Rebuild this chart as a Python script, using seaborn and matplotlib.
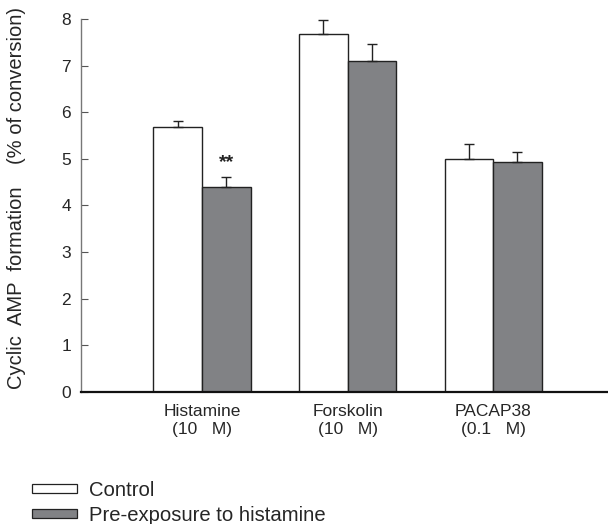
import matplotlib
matplotlib.use("Agg")
import matplotlib.pyplot as plt
import seaborn as sns
import pandas as pd
import numpy as np
from matplotlib.patches import Patch

categories = ["Histamine\n(10   M)", "Forskolin\n(10   M)", "PACAP38\n(0.1   M)"]
groups = ["Control", "Pre-exposure to histamine"]
control_vals = [5.69, 7.67, 4.99]
control_err = [0.13, 0.31, 0.32]
pre_vals = [4.39, 7.09, 4.93]
pre_err = [0.22, 0.37, 0.21]
yticks = [0, 1, 2, 3, 4, 5, 6, 7, 8]
colors = {"Control": "#ffffff", "Pre-exposure to histamine": "#818285"}

sns.set_style("ticks")
plt.rcParams["font.family"] = ["Liberation Sans", "DejaVu Sans"]

df = pd.DataFrame({
    "cat": categories * 2,
    "group": [groups[0]] * 3 + [groups[1]] * 3,
    "val": control_vals + pre_vals,
})

fig = plt.figure(figsize=(6.08, 5.24), dpi=100)
ax = fig.add_axes([0.133, 0.252, 0.865, 0.712])
sns.barplot(data=df, x="cat", y="val", hue="group", palette=colors,
            width=0.667, errorbar=None, edgecolor="#222222", linewidth=1.0,
            ax=ax, legend=False, saturation=1)

# error bars (upward only)
errs = control_err + pre_err
vals = control_vals + pre_vals
bars = [p for p in ax.patches][:6]
for p, v, e in zip(bars, vals, errs):
    cx = p.get_x() + p.get_width() / 2
    ax.errorbar(cx, v, yerr=[[0], [e]], fmt="none", ecolor="#222222",
                elinewidth=1.0, capsize=3.6, capthick=1.0)

# significance marker
p_hist_pre = bars[3]
ax.text(p_hist_pre.get_x() + p_hist_pre.get_width() / 2,
        pre_vals[0] + pre_err[0] + 0.12, "**", ha="center", va="bottom",
        fontsize=14, fontweight="bold", color="#222222")

ax.set_ylim(0, 8)
ax.set_xlim(-0.832, 2.78)
ax.set_yticks(yticks)
ax.tick_params(axis="y", direction="in", length=5, width=0.8, labelsize=12.5,
               color="#555555", pad=7)
ax.tick_params(axis="x", length=0, labelsize=12.5, pad=9)
for lbl in ax.get_xticklabels():
    lbl.set_multialignment("center")
ax.set_xlabel("")
ax.set_ylabel("Cyclic  AMP  formation    (% of conversion)", fontsize=14.5)
ax.yaxis.set_label_coords(-0.105, 0.52)
sns.despine(ax=ax)
ax.spines["left"].set_color("#777777")
ax.spines["left"].set_linewidth(1.0)
ax.spines["bottom"].set_color("#111111")
ax.spines["bottom"].set_linewidth(1.6)

handles = [Patch(facecolor=colors[g], edgecolor="#222222", linewidth=0.9, label=g) for g in groups]
fig.legend(handles=handles, loc="upper left", bbox_to_anchor=(0.0526, 0.082),
           frameon=False, handlelength=2.2, handleheight=0.34, fontsize=14.6,
           labelspacing=0.28, handletextpad=0.62, borderaxespad=0, borderpad=0)

fig.savefig("out.png", dpi=100)
